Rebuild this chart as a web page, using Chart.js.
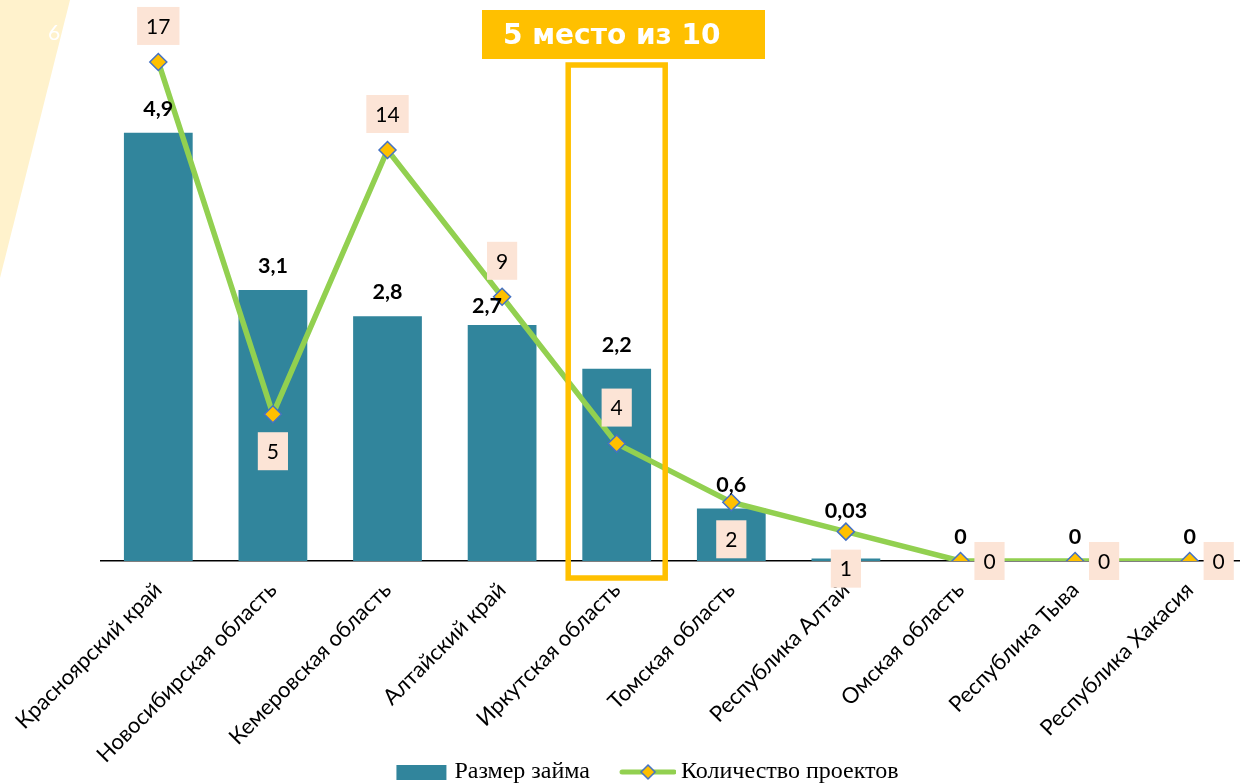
<!DOCTYPE html>
<html>
<head>
<meta charset="utf-8">
<script src="https://cdn.jsdelivr.net/npm/chart.js@4.4.0/dist/chart.umd.min.js"></script>
<style>
  html, body { margin: 0; padding: 0; background: #fff; overflow: hidden; }
  #wrap { width: 1248px; height: 794px; }
</style>
</head>
<body>
<div id="wrap"><canvas id="myChart"></canvas></div>
<script>
const regions = [
  'Красноярский край', 'Новосибирская область', 'Кемеровская область', 'Алтайский край',
  'Иркутская область', 'Томская область', 'Республика Алтай', 'Омская область',
  'Республика Тыва', 'Республика Хакасия'
];
const loanSize = [4.9, 3.1, 2.8, 2.7, 2.2, 0.6, 0.03, 0, 0, 0];
const projectCount = [17, 5, 14, 9, 4, 2, 1, 0, 0, 0];
const barLabels = loanSize.map(v => String(v).replace('.', ','));
const countLabels = projectCount.map(String);
const countLabelSide = ['top', 'bottom', 'top', 'top', 'top', 'bottom', 'bottom', 'right', 'right', 'right'];
const highlightIndex = 4;
const highlightText = '5 место из 10';

const TEAL = '#31859C', GREEN = '#92D050', GOLD = '#FFC000', BLUE = '#4472C4', PEACH = '#FCE4D6';

// nudges for the bar value labels that would hit the line
const barLabelShift = { 3: [-15, 5], 6: [0, -23] };

// legend icons are a bit wider than the legend box so the text sits close to them
function makeIcon(draw) {
  const c = document.createElement('canvas');
  c.width = 74; c.height = 20;
  draw(c.getContext('2d'));
  return c;
}
const barIcon = makeIcon(g => { g.fillStyle = TEAL; g.fillRect(21, 3, 50, 15); });
const lineIcon = makeIcon(g => {
  g.strokeStyle = GREEN; g.lineWidth = 5; g.lineCap = 'round';
  g.beginPath(); g.moveTo(20, 10); g.lineTo(72, 10); g.stroke();
  g.beginPath(); g.moveTo(46, 3); g.lineTo(53, 10); g.lineTo(46, 17); g.lineTo(39, 10); g.closePath();
  g.fillStyle = GOLD; g.fill();
  g.strokeStyle = BLUE; g.lineWidth = 1.5; g.stroke();
});

const decor = {
  id: 'decor',
  beforeDraw(chart) {
    const ctx = chart.ctx;
    ctx.save();
    ctx.fillStyle = '#FFF2CC';
    ctx.beginPath(); ctx.moveTo(0, 0); ctx.lineTo(70, 0); ctx.lineTo(0, 278); ctx.closePath(); ctx.fill();
    ctx.fillStyle = '#fff'; ctx.font = '21px Lato';
    ctx.textAlign = 'center'; ctx.textBaseline = 'middle';
    ctx.fillText('6', 54, 33);
    ctx.restore();
  },
  afterDatasetsDraw(chart) {
    const ctx = chart.ctx;
    const pts = chart.getDatasetMeta(0).data;
    const bars = chart.getDatasetMeta(1).data;
    ctx.save();
    ctx.textAlign = 'center'; ctx.textBaseline = 'middle';
    ctx.font = 'bold 21.5px Lato'; ctx.fillStyle = '#000';
    bars.forEach((b, i) => {
      const s = barLabelShift[i] || [0, 0];
      ctx.fillText(barLabels[i], b.x + s[0], b.y - 24 + s[1]);
    });
    ctx.font = '21px Lato';
    pts.forEach((p, i) => {
      const t = countLabels[i];
      const w = ctx.measureText(t).width + 18, h = 38;
      let cx = p.x, cy = p.y;
      if (countLabelSide[i] === 'top') cy -= 36;
      else if (countLabelSide[i] === 'bottom') cy += 37;
      else cx += 29;
      ctx.fillStyle = PEACH;
      ctx.fillRect(cx - w / 2, cy - h / 2, w, h);
      ctx.fillStyle = '#000';
      ctx.fillText(t, cx, cy + 1);
    });
    ctx.restore();
  },
  afterDraw(chart) {
    const ctx = chart.ctx;
    const x = chart.scales.x.getPixelForValue(highlightIndex);
    ctx.save();
    ctx.strokeStyle = GOLD; ctx.lineWidth = 5.5;
    ctx.strokeRect(x - 48.5, 65, 97, chart.chartArea.bottom + 17 - 65);
    ctx.fillStyle = GOLD;
    ctx.fillRect(482, 10, 283, 49);
    ctx.fillStyle = '#fff'; ctx.font = 'bold 28px "DejaVu Sans"';
    ctx.textAlign = 'left'; ctx.textBaseline = 'middle';
    ctx.fillText(highlightText, 503, 37);
    ctx.restore();
  }
};

const ctx = document.getElementById('myChart');

new Chart(ctx, {
  type: 'bar',
  data: {
    labels: regions,
    datasets: [
      {
        type: 'line',
        label: 'Количество проектов',
        data: projectCount,
        yAxisID: 'y1',
        borderColor: GREEN,
        borderWidth: 5.5,
        pointStyle: 'rectRot',
        pointRadius: 8.5,
        pointBackgroundColor: GOLD,
        pointBorderColor: BLUE,
        pointBorderWidth: 1.5,
        tension: 0,
        fill: false
      },
      {
        type: 'bar',
        label: 'Размер займа',
        data: loanSize,
        yAxisID: 'y',
        backgroundColor: TEAL,
        categoryPercentage: 0.6,
        barPercentage: 1
      }
    ]
  },
  options: {
    responsive: true,
    maintainAspectRatio: false,
    animation: false,
    layout: { autoPadding: false, padding: { top: 0, right: 1, bottom: 0, left: 34 } },
    plugins: {
      tooltip: { enabled: false },
      legend: {
        position: 'bottom',
        labels: {
          usePointStyle: true,
          pointStyleWidth: 60,
          padding: 19,
          color: '#000',
          font: { family: 'Liberation Serif', size: 24 },
          generateLabels: () => [
            { text: 'Размер займа', pointStyle: barIcon, datasetIndex: 1, lineWidth: 0, fontColor: '#000' },
            { text: 'Количество проектов', pointStyle: lineIcon, datasetIndex: 0, lineWidth: 0, fontColor: '#000' }
          ]
        }
      }
    },
    scales: {
      x: {
        offset: true,
        grid: { display: false },
        border: { display: true, color: '#000', width: 1.5 },
        ticks: {
          autoSkip: false,
          minRotation: 45,
          maxRotation: 45,
          padding: 8,
          color: '#000',
          font: { family: 'Lato', size: 22 }
        },
        afterFit(scale) {
          scale.height = 180;
          scale.paddingLeft = 0;
          scale.paddingRight = 0;
          // long rotated names run down past the axis box, don't clip them
          scale._computeLabelArea = () => undefined;
        }
      },
      y: {
        position: 'left',
        min: 0,
        max: 6.42,
        grid: { display: false },
        border: { display: false },
        ticks: { display: false },
        afterFit(scale) { scale.width = 67; }
      },
      y1: {
        display: false,
        min: 0,
        max: 19.11
      }
    }
  },
  plugins: [decor]
});
</script>
</body>
</html>
